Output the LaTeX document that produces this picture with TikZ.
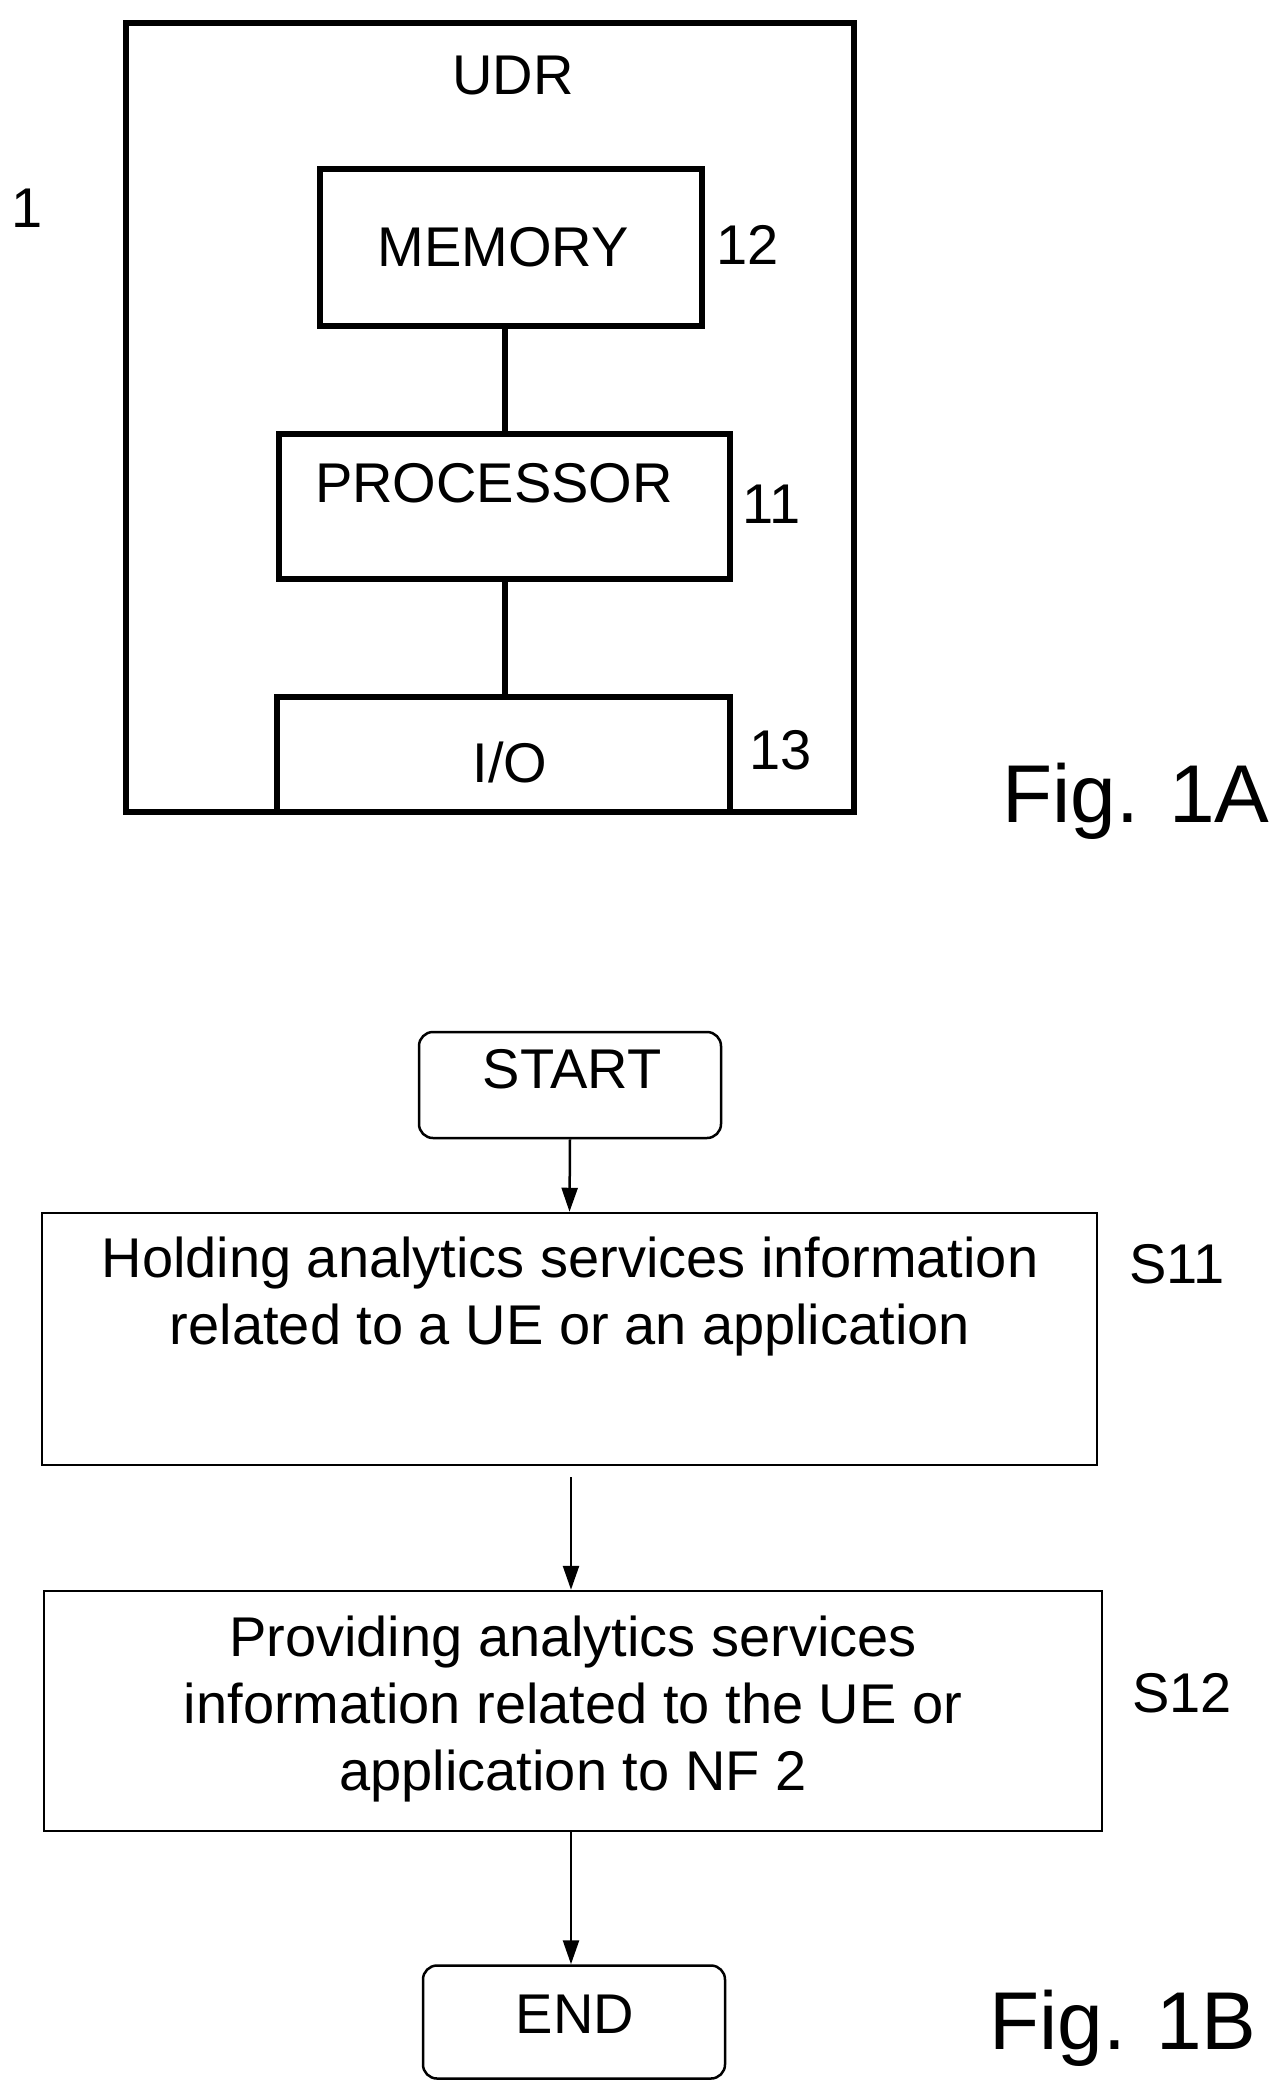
\documentclass[tikz,border=0pt]{standalone}
\usepackage{fontspec}
\setmainfont{Liberation Sans}
\usetikzlibrary{arrows.meta}
\begin{document}
\begin{tikzpicture}[x=1pt,y=-1pt,
  thick box/.style={draw,line width=6pt},
  fbox/.style={draw,line width=2.5pt},
  rbox/.style={draw,line width=2.5pt,rounded corners=14pt},
  txt/.style={font=\fontsize{56}{67}\selectfont,inner sep=0pt,align=center},
  fig/.style={font=\fontsize{82}{90}\selectfont,inner sep=0pt},
  arr/.style={line width=2.5pt,-{Triangle[length=24pt,width=16pt]}}]
\useasboundingbox (0,0) rectangle (1287,2097);
% Fig 1A
\draw[thick box] (126,23) rectangle (854,812);
\node[txt] (udr) at (513,76) {UDR};
\node[txt] (one) at (27,208) {1};
\draw[thick box] (320,169) rectangle (702,326);
\coordinate (memT) at (505,326);
\node[txt] (mem) at (503,247) {MEMORY};
\node[txt] (l12) at (748,245) {12};
\draw[thick box] (279,434) rectangle (730,579);
\node[txt] (proc) at (494,483) {PROCESSOR};
\node[txt] (l11) at (772,504) {11};
\draw[thick box] (277,812) -- (277,697) -- (730,697) -- (730,812);
\node[txt] (io) at (510,762) {I/O};
\node[txt] (l13) at (781,750) {13};
\coordinate (pT) at (505,434);
\coordinate (pB) at (505,579);
\coordinate (iT) at (505,697);
\draw[line width=6pt] (memT) -- (pT);
\draw[line width=6pt] (pB) -- (iT);
\node[fig] (f1a) at (1136,801) {Fig. 1A};
% Fig 1B
\node[rbox,minimum width=302pt,minimum height=106pt] (start) at (570,1085) {};
\node[txt] at (572,1069) {START};
\node[fbox,minimum width=1055pt,minimum height=252pt] (s11) at (569.5,1339) {};
\node[txt] at (570,1297) {Holding analytics services information\\related to a UE or an application};
\node[txt] (ls11) at (1177,1264) {S11};
\node[fbox,minimum width=1058pt,minimum height=240pt] (s12) at (573,1711) {};
\node[txt] at (573,1709) {Providing analytics services\\information related to the UE or\\application to NF 2};
\node[txt] (ls12) at (1182,1693) {S12};
\node[rbox,minimum width=302pt,minimum height=113pt] (endn) at (574,2022) {};
\node[txt] at (575,2014) {END};
\node[fig] (f1b) at (1123,2028) {Fig. 1B};
\draw[arr] (start.south) -- (s11.north);
\coordinate (g) at (571,1477);
\draw[arr] (g) -- (s12.north -| g);
\draw[arr] (s12.south -| g) -- (endn.north -| g);
\end{tikzpicture}
\end{document}
